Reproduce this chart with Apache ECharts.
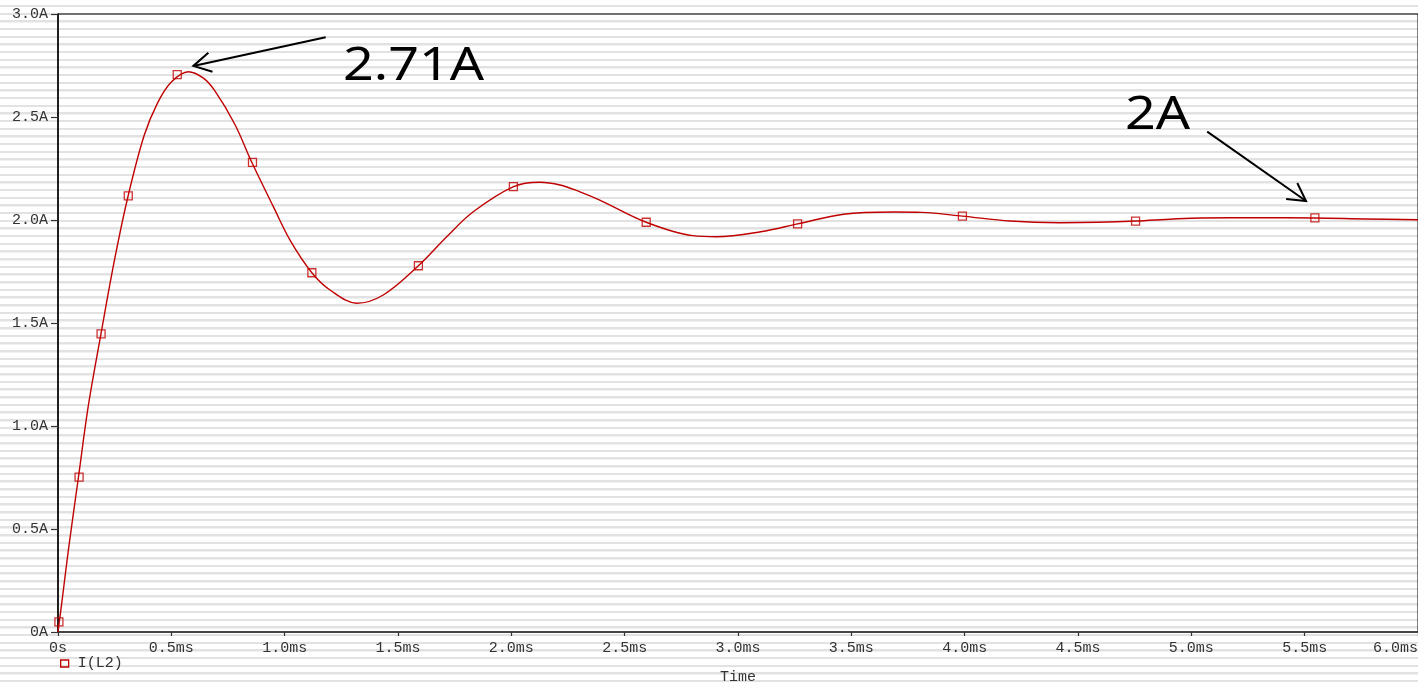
<!DOCTYPE html>
<html>
<head>
<meta charset="utf-8">
<script src="https://cdn.jsdelivr.net/npm/echarts@6/dist/echarts.min.js"></script>
<style>
  html, body { margin: 0; padding: 0; }
  body {
    width: 1418px; height: 684px; overflow: hidden;
    background-color: #ffffff;
    background-image: repeating-linear-gradient(to bottom,
      #ffffff 0px, #ffffff 4.9px,
      #e2e2e2 4.9px, #e2e2e2 6.9px,
      #f0f0f0 6.9px, #f0f0f0 7.4px,
      #ffffff 7.4px, #ffffff 7.67px);
  }
  #chart { width: 1418px; height: 684px; }
</style>
</head>
<body>
<div id="chart"></div>
<script>
// ---- data ----
const seriesName = 'I(L2)';
// curve samples: time (ms)
const curveTime = [0, 0.02, 0.046, 0.09, 0.134, 0.19, 0.25, 0.31, 0.38, 0.44, 0.5, 0.575, 0.64, 0.69, 0.78, 0.855, 0.95, 1.025, 1.12, 1.2, 1.318, 1.435, 1.59, 1.715, 1.832, 2.01, 2.126, 2.215, 2.30, 2.39, 2.595, 2.80, 2.906, 3.10, 3.263, 3.465, 3.685, 3.81, 3.99, 4.2, 4.42, 4.59, 4.754, 4.92, 5.045, 5.3, 5.543, 5.766, 6.0];
// curve samples: current (A)
const curveCurrent = [0, 0.17, 0.40, 0.75, 1.10, 1.45, 1.81, 2.12, 2.41, 2.57, 2.67, 2.72, 2.69, 2.63, 2.465, 2.28, 2.065, 1.90, 1.744, 1.66, 1.596, 1.636, 1.778, 1.919, 2.04, 2.162, 2.183, 2.17, 2.138, 2.097, 1.989, 1.924, 1.919, 1.943, 1.981, 2.028, 2.039, 2.037, 2.019, 1.995, 1.987, 1.989, 1.995, 2.005, 2.01, 2.011, 2.01, 2.005, 2.001];
// marker positions
const markerTime = [0.004, 0.093, 0.19, 0.31, 0.526, 0.858, 1.12, 1.59, 2.009, 2.595, 3.263, 3.99, 4.754, 5.545];
const markerCurrent = [0.049, 0.752, 1.447, 2.117, 2.706, 2.28, 1.744, 1.778, 2.162, 1.989, 1.981, 2.019, 1.995, 2.01];
// axis ticks
const xTicks = [0, 0.5, 1.0, 1.5, 2.0, 2.5, 3.0, 3.5, 4.0, 4.5, 5.0, 5.5, 6.0];
const yTicks = [0, 0.5, 1.0, 1.5, 2.0, 2.5, 3.0];
const xAxisName = 'Time';
// annotations: label, text anchor (left edge, cap-centre) and arrow tail/tip, in data units
const annotLabels = ['2.71A', '2A'];
const annotTextPos = [[1.257, 2.752], [4.707, 2.517]];
const annotArrowTail = [[1.181, 2.887], [5.070, 2.429]];
const annotArrowTip = [[0.597, 2.748], [5.506, 2.092]];

// ---- chart ----
const RED = '#c00000';
const MONO = '"Liberation Mono", "Courier New", monospace';
const chart = echarts.init(document.getElementById('chart'), null, { renderer: 'canvas' });

const lineData = curveTime.map((t, i) => [t, curveCurrent[i]]);
const markData = markerTime.map((t, i) => [t, markerCurrent[i]]);

const option = {
  animation: false,
  backgroundColor: 'transparent',
  grid: {
    left: 58, top: 14, right: 0, bottom: 52,
    outerBoundsMode: 'none', containLabel: false,
    show: true, borderColor: '#000', borderWidth: 1, backgroundColor: 'transparent'
  },
  legend: {
    left: 55, top: 651,
    itemWidth: 8, itemHeight: 7, itemGap: 10,
    textStyle: { fontFamily: MONO, fontSize: 15, color: '#333', padding: [0, 0, 0, 4] },
    data: [{ name: seriesName, icon: 'rect',
      itemStyle: { color: 'rgba(255,255,255,0)', borderColor: RED, borderWidth: 1.3 } }]
  },
  xAxis: {
    type: 'value', min: 0, max: 6, interval: 0.5,
    name: xAxisName, nameLocation: 'middle', nameGap: 38,
    nameTextStyle: { fontFamily: MONO, fontSize: 15, color: '#333' },
    axisLine: { show: true, onZero: false, lineStyle: { color: '#333', width: 1.5 } },
    axisTick: { show: true, inside: false, length: 4, lineStyle: { color: '#333', width: 1.2 } },
    axisLabel: {
      fontFamily: MONO, fontSize: 15, color: '#333', margin: 9,
      alignMaxLabel: 'right',
      formatter: v => (xTicks.indexOf(v) === 0 ? '0s' : v.toFixed(1) + 'ms')
    },
    splitLine: { show: false }
  },
  yAxis: {
    type: 'value', min: 0, max: 3, interval: 0.5,
    axisLine: { show: true, onZero: false, lineStyle: { color: '#000', width: 1.5 } },
    axisTick: { show: true, inside: false, length: 7, lineStyle: { color: '#333', width: 1.2 } },
    axisLabel: {
      fontFamily: MONO, fontSize: 15, color: '#333', margin: 10,
      formatter: v => (yTicks.indexOf(v) === 0 ? '0A' : v.toFixed(1) + 'A')
    },
    splitLine: { show: false }
  },
  series: [
    {
      name: seriesName, type: 'line', data: lineData,
      smooth: 0.35, showSymbol: false, symbol: 'none',
      lineStyle: { color: RED, width: 1.4 }, itemStyle: { color: RED },
      z: 3
    },
    {
      name: seriesName, type: 'scatter', data: markData,
      symbol: 'rect', symbolSize: 8,
      itemStyle: { color: 'rgba(255,255,255,0)', borderColor: RED, borderWidth: 1.3 },
      z: 4
    }
  ]
};
chart.setOption(option);

// annotations placed through the chart's own scales
function buildAnnotations() {
  const els = [];
  const ARM = 20, ANG = 29 * Math.PI / 180;
  annotLabels.forEach((label, i) => {
    const tp = chart.convertToPixel({ gridIndex: 0 }, annotTextPos[i]);
    els.push({
      type: 'text', x: tp[0], y: tp[1] + 2, scaleX: 1.17, scaleY: 1, z: 10,
      style: { text: label, fill: '#000', font: '46px "Noto Sans", sans-serif',
        textAlign: 'left', textVerticalAlign: 'middle' }
    });
    const tail = chart.convertToPixel({ gridIndex: 0 }, annotArrowTail[i]);
    const tip = chart.convertToPixel({ gridIndex: 0 }, annotArrowTip[i]);
    const a = Math.atan2(tail[1] - tip[1], tail[0] - tip[0]);
    const p1 = [tip[0] + ARM * Math.cos(a - ANG), tip[1] + ARM * Math.sin(a - ANG)];
    const p2 = [tip[0] + ARM * Math.cos(a + ANG), tip[1] + ARM * Math.sin(a + ANG)];
    els.push({ type: 'polyline', z: 10, shape: { points: [tail, tip] },
      style: { stroke: '#000', lineWidth: 2, fill: null } });
    els.push({ type: 'polyline', z: 10, shape: { points: [p1, tip, p2] },
      style: { stroke: '#000', lineWidth: 2, fill: null } });
  });
  chart.setOption({ graphic: { elements: els } });
}
buildAnnotations();
</script>
</body>
</html>
